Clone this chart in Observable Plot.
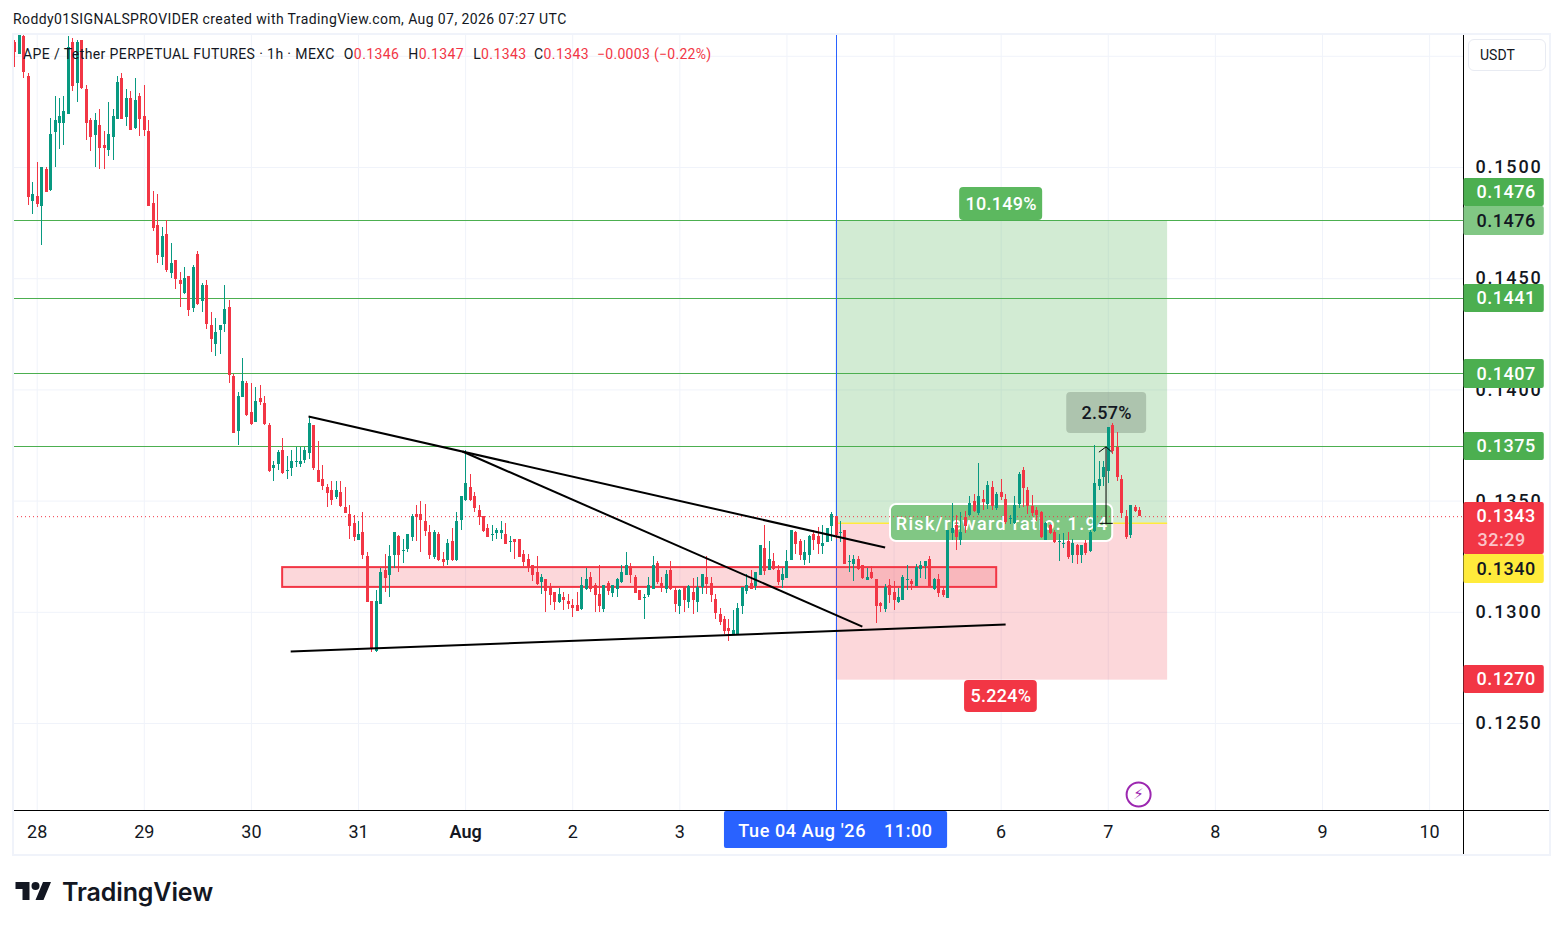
<!DOCTYPE html>
<html><head><meta charset="utf-8">
<script src="https://cdn.jsdelivr.net/npm/d3@7"></script>
<script src="https://cdn.jsdelivr.net/npm/@observablehq/plot@0.6"></script>
<style>
html,body{margin:0;padding:0;background:#fff;width:1563px;height:930px;overflow:hidden;font-family:Roboto,sans-serif;color:#131722}
#page{position:relative;width:1563px;height:930px}
#credit{height:34px;box-sizing:border-box;padding:11px 0 0 13px;font-size:14px;line-height:17px;white-space:nowrap;letter-spacing:.4px}
#chart svg{display:block}
#panel{position:absolute;left:12px;top:33px;width:1539px;height:823px;box-sizing:border-box;border:2px solid #f0f3fa;pointer-events:none}
#legend{position:absolute;left:23px;top:46px;font-size:14px;line-height:17px;white-space:nowrap;letter-spacing:.4px}
#legend b{font-weight:400;color:#f23645}
#legend span{margin-left:9px}
#legend span.c{margin-left:7.5px}
#legend span.d{margin-left:8px;letter-spacing:.3px}
#usdt{position:absolute;left:1468px;top:39px;width:78px;height:32px;box-sizing:border-box;border:1px solid #e8ebf2;border-radius:6px;font-size:14px;line-height:30px;padding-left:11px}
#footer{position:absolute;left:15px;top:877px;display:flex;align-items:center;gap:10px;font-family:Inter,sans-serif;font-size:25px;font-weight:600;color:#131722;letter-spacing:-.12px}
.num text{letter-spacing:1.8px}
.tagnum text{letter-spacing:.5px}
.wide text{letter-spacing:1.3px}
.note text{letter-spacing:.3px}
.time text{letter-spacing:.6px}
</style></head>
<body><div id="page">
<div id="credit">Roddy01SIGNALSPROVIDER created with TradingView.com, Aug 07, 2026 07:27 UTC</div>
<div id="chart"></div>
<div id="panel"></div>
<div id="legend">APE / Tether PERPETUAL FUTURES · 1h · MEXC<span>O<b>0.1346</b></span><span>H<b>0.1347</b></span><span>L<b>0.1343</b></span><span class="c">C<b>0.1343</b></span><span class="d"><b>−0.0003 (−0.22%)</b></span></div>
<div id="usdt">USDT</div>
<div id="footer"><svg width="37" height="28" viewBox="0 0 36 28"><path fill="#131722" d="M14 22H7V11H0V4h14v18zM28 22h-8l7.5-18h8L28 22z"/><circle fill="#131722" cx="20" cy="8" r="4"/></svg><span>TradingView</span></div>
</div>
<script>
// Prices are in units of 0.00001 USDT; first candle is 5 hours before 28 Jul 00:00 (hourly bars).
const firstHour = -5;
const priceUnit = 1e-5;
const opens = [
15560,15508,15589,15409,14846,14869,14824,14990,14896,15157,
15198,15198,15240,15562,15377,15571,15350,15211,15144,15188,
15098,15076,15134,15216,15400,15225,15310,15175,15319,15229,
15161,14838,14738,14596,14699,14524,14582,14492,14434,14510,
14366,14609,14398,14470,14290,14204,14267,14294,14370,14060,
13812,13966,14028,13898,13853,13961,13938,13840,13646,13664,
13727,13632,13646,13673,13664,13682,13714,13840,13637,13596,
13560,13548,13516,13539,13471,13440,13400,13323,13359,13251,
13048,12823,13035,13188,13165,13255,13341,13273,13283,13336,
13440,13440,13408,13359,13246,13350,13237,13233,13318,13233,
13413,13503,13561,13521,13458,13431,13377,13345,13354,13354,
13350,13314,13327,13327,13260,13237,13210,13179,13134,13147,
13111,13089,13044,13066,13048,13030,13030,13012,13102,13156,
13120,13080,13012,13130,13084,13102,13134,13165,13206,13156,
13098,13062,13075,13102,13219,13130,13102,13188,13098,13026,
13111,13044,13089,13044,13111,13156,13130,13057,12990,12967,
12927,12900,12900,13026,13093,13130,13116,13165,13287,13188,
13228,13188,13143,13152,13233,13359,13318,13233,13255,13350,
13341,13296,13314,13386,13431,13354,13368,13224,13215,13237,
13210,13143,13179,13147,13040,13012,13120,13089,13044,13053,
13143,13138,13116,13192,13206,13237,13102,13147,13098,13061,
13354,13390,13322,13426,13435,13497,13444,13506,13484,13561,
13466,13538,13506,13416,13399,13484,13637,13547,13475,13457,
13448,13322,13390,13358,13313,13304,13317,13254,13300,13254,
13308,13272,13362,13565,13605,13632,13840,13740,13597,13430,13345,13470,13460];
const closes = [
15516,15609,15428,14866,14878,14833,15000,14888,15148,15211,
15229,15251,15541,15365,15562,15355,15198,15134,15211,15085,
15085,15148,15229,15382,15216,15310,15166,15301,15216,15166,
14824,14725,14604,14690,14537,14568,14497,14474,14501,14357,
14550,14384,14470,14294,14226,14258,14290,14361,14064,13804,
13970,14037,13884,13844,13948,13943,13844,13632,13660,13718,
13624,13637,13678,13678,13678,13727,13848,13646,13583,13565,
13534,13503,13548,13476,13444,13386,13336,13350,13255,13044,
12837,13048,13179,13152,13251,13359,13255,13278,13350,13431,
13426,13413,13363,13255,13359,13233,13224,13309,13233,13408,
13521,13580,13503,13467,13426,13363,13336,13350,13368,13368,
13305,13318,13314,13246,13224,13201,13165,13125,13156,13093,
13075,13044,13080,13053,13035,13017,13003,13120,13147,13102,
13075,13026,13120,13093,13120,13147,13179,13210,13165,13084,
13053,13066,13120,13210,13134,13107,13170,13102,13035,13098,
13053,13116,13053,13111,13170,13125,13075,12994,12954,12913,
12913,12918,13017,13111,13120,13102,13179,13300,13183,13237,
13192,13134,13170,13228,13368,13305,13255,13269,13341,13323,
13305,13309,13377,13440,13345,13359,13215,13228,13237,13192,
13152,13156,13152,13026,13026,13111,13075,13053,13066,13156,
13147,13125,13201,13210,13228,13116,13147,13084,13075,13367,
13376,13336,13358,13385,13488,13452,13520,13493,13570,13475,
13529,13515,13403,13421,13479,13619,13556,13475,13444,13435,
13335,13399,13354,13313,13317,13308,13245,13308,13254,13300,
13263,13358,13578,13596,13650,13830,13722,13605,13443,13336,13480,13452,13430];
const highs = [
15571,15609,15597,15421,14932,15022,15000,15000,15220,15319,
15310,15319,15589,15580,15571,15571,15368,15220,15241,15260,
15161,15292,15260,15409,15422,15350,15341,15400,15332,15368,
15211,14892,14878,14731,14762,14660,14582,14528,14550,14510,
14560,14622,14478,14492,14348,14321,14290,14470,14402,14069,
13988,14141,14037,14028,14010,14020,13970,13848,13678,13727,
13781,13700,13727,13740,13740,13740,13880,13840,13767,13660,
13575,13588,13588,13588,13561,13480,13435,13408,13449,13269,
13048,13098,13197,13260,13300,13359,13345,13327,13350,13440,
13480,13498,13485,13390,13368,13359,13269,13327,13377,13449,
13521,13728,13620,13539,13480,13431,13395,13390,13377,13408,
13399,13341,13327,13327,13278,13260,13210,13251,13170,13147,
13130,13089,13107,13089,13080,13058,13089,13156,13197,13179,
13130,13210,13120,13138,13120,13152,13210,13269,13219,13165,
13098,13080,13156,13251,13228,13156,13188,13228,13111,13102,
13111,13120,13152,13156,13170,13251,13156,13080,13017,12981,
12967,13008,13040,13111,13170,13188,13179,13300,13390,13318,
13264,13210,13197,13278,13368,13363,13327,13323,13345,13368,
13381,13390,13377,13449,13431,13408,13368,13255,13255,13251,
13210,13197,13206,13147,13044,13125,13147,13138,13107,13165,
13210,13147,13215,13228,13228,13251,13152,13170,13116,13367,
13488,13435,13448,13453,13520,13529,13668,13547,13588,13588,
13538,13597,13529,13435,13520,13628,13650,13560,13524,13470,
13452,13403,13394,13367,13349,13353,13358,13326,13307,13300,
13322,13367,13750,13677,13677,13830,13847,13808,13615,13457,13480,13480,13470];
const lows = [
15451,15508,15402,14830,14790,14821,14649,14888,14892,15001,
15082,15098,15240,15342,15292,15350,15121,15071,15000,14991,
14991,15049,15031,15216,15216,15184,15166,15170,15139,15139,
14824,14714,14570,14559,14528,14501,14452,14370,14429,14330,
14348,14380,14348,14272,14168,14150,14159,14258,14028,13804,
13750,13966,13880,13840,13853,13930,13840,13628,13588,13637,
13619,13597,13610,13650,13650,13668,13686,13637,13583,13547,
13473,13480,13507,13471,13444,13327,13318,13323,13237,13044,
12819,12819,13035,13089,13067,13197,13179,13219,13269,13318,
13318,13269,13341,13237,13237,13228,13206,13210,13228,13228,
13368,13498,13498,13449,13390,13359,13336,13318,13327,13327,
13305,13269,13237,13246,13206,13179,13139,13120,13080,12999,
13030,13008,13040,13008,13012,12977,13003,13008,13098,13089,
12999,12999,12999,13075,13066,13066,13130,13165,13130,13084,
13053,12967,13066,13102,13125,13089,13084,13098,12999,12990,
12999,13017,12990,12999,13080,13080,13044,12967,12940,12900,
12868,12900,12900,12990,13080,13102,13098,13165,13165,13188,
13188,13120,13107,13152,13233,13260,13233,13210,13219,13278,
13260,13260,13314,13318,13327,13314,13215,13179,13138,13188,
13147,13143,13147,12949,12999,12999,13040,13008,13040,13053,
13098,13098,13116,13152,13147,13116,13098,13066,13066,13061,
13322,13277,13300,13354,13430,13448,13435,13457,13461,13457,
13457,13502,13394,13394,13394,13466,13470,13439,13430,13408,
13331,13322,13349,13308,13228,13286,13236,13218,13214,13218,
13254,13268,13360,13547,13565,13578,13709,13587,13421,13327,13331,13448,13430];

const dayHours = [0,24,48,72,96,120,144,168,192,216,240,264,288,312];
const dayLabels = ["28","29","30","31","Aug","2","3","","","6","7","8","9","10"];
const priceTicks = [0.125,0.13,0.135,0.14,0.145,0.15];
const gridPrices = [0.125,0.13,0.135,0.14,0.145,0.15,0.155];
const targetLevels = [0.1476,0.1441,0.14076,0.13746];
const lastPrice = 0.1343, entryPrice = 0.134, targetPrice = 0.1476, stopPrice = 0.12695;
const positionStart = 179, positionEnd = 253.3;
const trendLines = [
  {h1:60.8,p1:0.13880,h2:190.0,p2:0.13291},
  {h1:95.3,p1:0.13723,h2:184.9,p2:0.12936},
  {h1:56.8,p1:0.12824,h2:217.0,p2:0.12945},
  {h1:238,p1:0.134,h2:241,p2:0.134,w:1},
  {h1:239.5,p1:0.134,h2:239.5,p2:0.13744,w:1},
  {h1:239.5,p1:0.13744,h2:237.9,p2:0.1372,w:1},
  {h1:239.5,p1:0.13744,h2:240.8,p2:0.1372,w:1}
];
const supportZone = {h1:55.0,h2:215,p1:0.13201,p2:0.13112};
const pxPerPrice = 22240;
const yMin = 0.121089, yMax = 0.155980, xMin = -5.31, xMax = 319.6;
const tagWidth = 18.1;
const axisEnd = 339.1;
const priceTags = [
  {t:"0.1476",p1:0.14951,p2:0.14825,fill:"#4caf50",color:"#fff"},
  {t:"0.1476",p1:0.14825,p2:0.14694,fill:"#81c784",color:"#131722"},
  {t:"0.1441",p1:0.14474,p2:0.14348,fill:"#4caf50",color:"#fff"},
  {t:"0.1407",p1:0.14137,p2:0.14006,fill:"#4caf50",color:"#fff"},
  {t:"0.1375",p1:0.13808,p2:0.13683,fill:"#4caf50",color:"#fff"},
  {t:"0.1343",p1:0.13494,p2:0.13260,fill:"#f23645",color:"#fff",py:0.13430},
  {t:"0.1340",p1:0.13260,p2:0.13129,fill:"#ffeb3b",color:"#131722"},
  {t:"0.1270",p1:0.12761,p2:0.12635,fill:"#f23645",color:"#fff"}
];
const greyNote = {t:"2.57%",h1:230.7,h2:248.6,p1:0.13988,p2:0.13804,color:"#131722"};
const noteBoxes = [
  {t:"10.149%",h1:206.7,h2:225.3,p1:0.14910,p2:0.14762,fill:"#5cb85f",color:"#fff"},
  {t:"5.224%",h1:207.8,h2:224.1,p1:0.12693,p2:0.12550,fill:"#f23645",color:"#fff"}
];
const timeParts = [{t:"Tue 04 Aug '26",h:171.4},{t:"11:00",h:195.2}];

const candles = opens.map((o,i)=>({
  h:firstHour+i, open:o*priceUnit, close:closes[i]*priceUnit,
  high:highs[i]*priceUnit, low:lows[i]*priceUnit
}));
const up = d => d.close >= d.open;
const candleColor = d => up(d) ? "#089981" : "#f23645";
const FONT = "Roboto, sans-serif";
const below = n => yMin - n / pxPerPrice;

const plot = Plot.plot({
  width:1563, height:821,
  marginLeft:13, marginRight:100, marginTop:0, marginBottom:45,
  x:{type:"linear",domain:[xMin,xMax],axis:null},
  y:{type:"linear",domain:[yMin,yMax],axis:null},
  style:{fontFamily:FONT,background:"transparent",color:"#131722",overflow:"visible"},
  marks:[
    // grid
    Plot.ruleX(dayHours,{x:d=>d,y1:yMin,y2:yMax,stroke:"#f0f3fa",strokeWidth:1}),
    Plot.ruleY(gridPrices,{y:d=>d,x1:xMin,x2:xMax,stroke:"#f0f3fa",strokeWidth:1}),
    // axes (the labels for the 4th and 5th sit under the crosshair time label)
    Plot.axisX(dayHours.filter((d,i)=>dayLabels[i]&&dayLabels[i]!=="Aug"),{anchor:"bottom",tickSize:0,tickPadding:15,fontSize:18,fontWeight:400,
      tickFormat:d=>dayLabels[dayHours.indexOf(d)],stroke:"none"}),
    Plot.axisX([96],{anchor:"bottom",tickSize:0,tickPadding:15,fontSize:18,fontWeight:600,tickFormat:()=>"Aug",stroke:"none"}),
    Plot.axisY(priceTicks,{anchor:"right",tickSize:0,tickPadding:12,fontSize:18,fontWeight:500,tickFormat:d3.format(".4f"),stroke:"none",className:"num"}),
    // target levels
    Plot.ruleY(targetLevels,{y:d=>d,x1:xMin,x2:xMax,stroke:"#4caf50",strokeWidth:1,shapeRendering:"crispEdges"}),
    // position tool
    Plot.rect([{}],{x1:positionStart,x2:positionEnd,y1:entryPrice,y2:targetPrice,fill:"#4caf50",fillOpacity:0.25}),
    Plot.rect([{}],{x1:positionStart,x2:positionEnd,y1:stopPrice,y2:entryPrice,fill:"#f23645",fillOpacity:0.2}),
    Plot.ruleY([entryPrice],{x1:positionStart,x2:positionEnd,stroke:"#ffeb3b",strokeWidth:1.5}),
    Plot.rect([{}],{x1:191.2,x2:241,y1:0.13318,y2:0.13485,fill:"#81c784",stroke:"#fff",strokeWidth:2,rx:6}),
    Plot.text(["Risk/reward ratio: 1.94"],{x:192.4,y:0.13395,textAnchor:"start",fill:"#fff",fontSize:18,fontWeight:500,className:"wide"}),
    // last price and cursor
    Plot.ruleY([lastPrice],{x1:xMin,x2:xMax,stroke:"#f23645",strokeWidth:1,strokeDasharray:"1,3"}),
    Plot.ruleX([positionStart],{y1:yMin,y2:yMax,stroke:"#2962ff",strokeWidth:1,shapeRendering:"crispEdges"}),
    // zone
    Plot.rect([supportZone],{x1:"h1",x2:"h2",y1:"p1",y2:"p2",fill:"#f23645",fillOpacity:0.2,stroke:"#f23645",strokeWidth:2}),
    // grey measure box sits under the candles
    Plot.rect([greyNote],{x1:"h1",x2:"h2",y1:"p1",y2:"p2",fill:"#6b7a6b",fillOpacity:0.35,rx:4}),
    // candles
    Plot.ruleX(candles,{x:"h",y1:"low",y2:"high",stroke:candleColor,strokeWidth:1,shapeRendering:"crispEdges",clip:"frame"}),
    Plot.ruleX(candles,{x:"h",y1:"open",y2:"close",stroke:candleColor,strokeWidth:3,shapeRendering:"crispEdges",clip:"frame"}),
    // trend lines and measure arrow
    Plot.link(trendLines,{x1:"h1",y1:"p1",x2:"h2",y2:"p2",stroke:"#000",strokeWidth:d=>d.w||2}),
    // notes
    Plot.rect(noteBoxes,{x1:"h1",x2:"h2",y1:"p1",y2:"p2",fill:"fill",rx:4}),
    Plot.text(noteBoxes.concat([greyNote]),{x:d=>(d.h1+d.h2)/2,y:d=>(d.p1+d.p2)/2,text:"t",fill:"color",fontSize:18,fontWeight:500,className:"note"}),
    // lightning icon
    Plot.dot([{}],{x:246.8,y:0.12181,r:12,stroke:"#9c27b0",strokeWidth:2,fill:"#fff"}),
    Plot.text(["⚡"],{x:246.8,y:0.12181,fill:"#9c27b0",fontSize:15,fontFamily:"DejaVu Sans"}),
    // axis borders
    Plot.ruleX([xMax],{y1:yMax,y2:below(45),stroke:"#000",strokeWidth:1,shapeRendering:"crispEdges"}),
    Plot.ruleY([yMin],{x1:xMin,x2:axisEnd,stroke:"#000",strokeWidth:1,shapeRendering:"crispEdges"}),
    // price tags
    Plot.rect(priceTags,{x1:xMax+0.1,x2:xMax+tagWidth,y1:"p1",y2:"p2",fill:"fill",rx:2}),
    Plot.text(priceTags,{x:xMax,y:d=>d.py||(d.p1+d.p2)/2,text:"t",dx:13,textAnchor:"start",fill:"color",fontSize:18,fontWeight:500,className:"tagnum"}),
    Plot.text(["32:29"],{x:xMax,y:0.13323,dx:14,textAnchor:"start",fill:"#fbc4c9",fontSize:18,fontWeight:500,className:"tagnum"}),
    // crosshair time label
    Plot.rect([{}],{x1:154,x2:204,y1:below(1),y2:below(38),fill:"#2962ff",rx:2}),
    Plot.text(timeParts,{x:"h",y:below(21),text:"t",fill:"#fff",fontSize:18,fontWeight:500,className:"time"})
  ]
});
document.getElementById("chart").appendChild(plot);
</script>
</body></html>
